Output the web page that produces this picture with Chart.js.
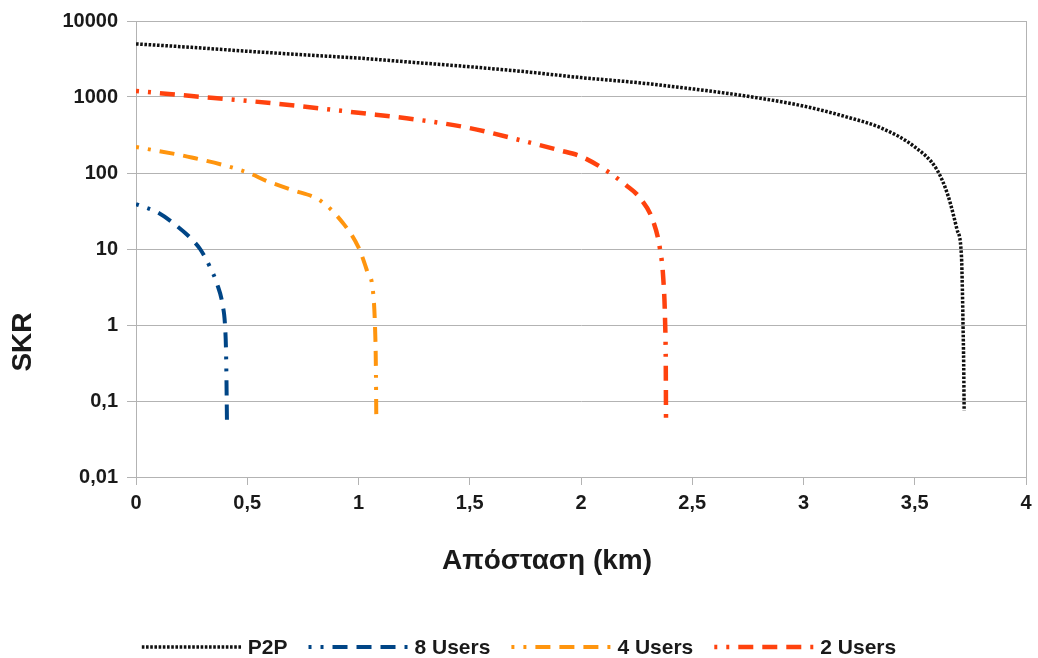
<!DOCTYPE html>
<html>
<head>
<meta charset="utf-8">
<script src="https://cdn.jsdelivr.net/npm/chart.js@4.4.1/dist/chart.umd.min.js"></script>
<style>
  html, body { margin: 0; padding: 0; background: #fff; }
  #wrap { width: 1038px; height: 658px; }
</style>
</head>
<body>
<div id="wrap"><canvas id="chart" width="1038" height="658"></canvas></div>
<script>
// ═══ DATA ═══
const yTicks = [0.01, 0.1, 1, 10, 100, 1000, 10000];

const p2pX = [0, 0.25, 0.5, 0.75, 1, 1.25, 1.5, 1.75, 2, 2.25, 2.5, 2.75, 3, 3.2, 3.35, 3.5, 3.6, 3.65, 3.69, 3.71, 3.714, 3.717, 3.72, 3.722];
const p2pY = [5000, 4500, 4000, 3600, 3250, 2850, 2500, 2150, 1800, 1550, 1280, 1020, 760, 540, 390, 220, 110, 50, 18, 8, 3, 1, 0.3, 0.075];

const u8X = [0, 0.1, 0.184, 0.25, 0.288, 0.33, 0.364, 0.39, 0.4, 0.405, 0.409];
const u8Y = [39, 30, 20, 13.5, 10, 6, 3.5, 1.8, 1, 0.4, 0.05];

const u4X = [0, 0.25, 0.5, 0.59, 0.7, 0.83, 0.93, 1.0, 1.04, 1.065, 1.074, 1.078, 1.08];
const u4Y = [220, 160, 102, 78, 60, 43, 22, 10.5, 5, 2.8, 1, 0.3, 0.06];

const u2X = [0, 0.25, 0.5, 0.75, 1, 1.25, 1.5, 1.75, 1.9, 2, 2.13, 2.2, 2.265, 2.325, 2.355, 2.37, 2.378, 2.381, 2.382];
const u2Y = [1200, 1030, 890, 750, 620, 510, 390, 260, 200, 165, 100, 70, 47, 23, 10, 4, 1.1, 0.3, 0.06];

const seriesNames = ["P2P", "8 Users", "4 Users", "2 Users"];

// ═══ STYLE ═══
const FONT = "'Liberation Sans', Arial, sans-serif";
const TEXT = "#1a1a1a";
const GRID = "#b3b3b3";
const DASHDOT = [3, 9, 3, 9, 15, 9, 15, 9, 15, 9];

const pts = (xs, ys) => xs.map((x, i) => ({ x: x, y: ys[i] }));

function lineSet(label, data, color, width, dash) {
  return {
    label, data,
    borderColor: color,
    borderWidth: width,
    borderDash: dash,
    borderCapStyle: "butt",
    pointRadius: 0,
    fill: false,
    cubicInterpolationMode: "monotone",
  };
}

const datasets = [
  lineSet(seriesNames[0], pts(p2pX, p2pY), "#111111", 3.5, [2.6, 1.6]),
  lineSet(seriesNames[1], pts(u8X, u8Y), "#004586", 4, DASHDOT),
  lineSet(seriesNames[2], pts(u4X, u4Y), "#ff950e", 4, DASHDOT),
  lineSet(seriesNames[3], pts(u2X, u2Y), "#ff420e", 4.5, DASHDOT),
];

const fmtComma = v => String(v).replace(".", ",");

// ═══ AXIS TITLES + LEGEND (drawn on canvas) ═══
const extras = {
  id: "extras",
  afterDraw(chart) {
    const ctx = chart.ctx;
    ctx.save();
    ctx.fillStyle = TEXT;
    ctx.font = "bold 28px " + FONT;
    ctx.textAlign = "center";
    ctx.textBaseline = "middle";
    ctx.fillText("Απόσταση (km)", 547, 561);
    ctx.translate(23, 342);
    ctx.rotate(-Math.PI / 2);
    ctx.fillText("SKR", 0, 0);
    ctx.restore();

    // legend
    ctx.save();
    ctx.font = "bold 21px " + FONT;
    const sample = 100, gapText = 6, gapItem = 21;
    const widths = chart.data.datasets.map(ds => sample + gapText + ctx.measureText(ds.label).width);
    const total = widths.reduce((a, b) => a + b, 0) + gapItem * (widths.length - 1);
    let x = (chart.width - total) / 2;
    const y = 647;
    chart.data.datasets.forEach((ds, i) => {
      ctx.strokeStyle = ds.borderColor;
      ctx.lineWidth = ds.borderWidth;
      ctx.setLineDash(ds.borderDash);
      ctx.lineCap = "butt";
      ctx.beginPath();
      ctx.moveTo(x, y);
      ctx.lineTo(x + sample, y);
      ctx.stroke();
      ctx.setLineDash([]);
      ctx.fillStyle = TEXT;
      ctx.textAlign = "left";
      ctx.textBaseline = "middle";
      ctx.fillText(ds.label, x + sample + gapText, y + 1);
      x += widths[i] + gapItem;
    });
    ctx.restore();
  }
};

new Chart(document.getElementById("chart"), {
  type: "line",
  data: { datasets },
  plugins: [extras],
  options: {
    responsive: false,
    animation: false,
    layout: { padding: { left: 0, right: 12, top: 20, bottom: 0 } },
    plugins: { legend: { display: false }, tooltip: { enabled: false } },
    scales: {
      x: {
        type: "linear", min: 0, max: 4,
        afterFit: s => { s.height = 658 - 477; },
        grid: {
          color: c => (c.tick && c.tick.value === 4 ? GRID : "rgba(0,0,0,0)"),
          tickColor: GRID, tickLength: 8, lineWidth: 1,
        },
        border: { color: GRID, width: 1 },
        ticks: {
          stepSize: 0.5, padding: 6, color: TEXT,
          font: { family: FONT, size: 20, weight: "bold" },
          callback: v => fmtComma(v),
          maxRotation: 0,
        },
      },
      y: {
        type: "logarithmic", min: 0.01, max: 10000,
        afterFit: s => { s.width = 136; },
        afterBuildTicks: s => { s.ticks = yTicks.map(v => ({ value: v })); },
        grid: { color: GRID, tickColor: GRID, tickLength: 9, lineWidth: 1 },
        border: { color: GRID, width: 1 },
        ticks: {
          padding: 9, color: TEXT,
          font: { family: FONT, size: 20, weight: "bold" },
          callback: v => fmtComma(v),
        },
      },
    },
  },
});
</script>
</body>
</html>
